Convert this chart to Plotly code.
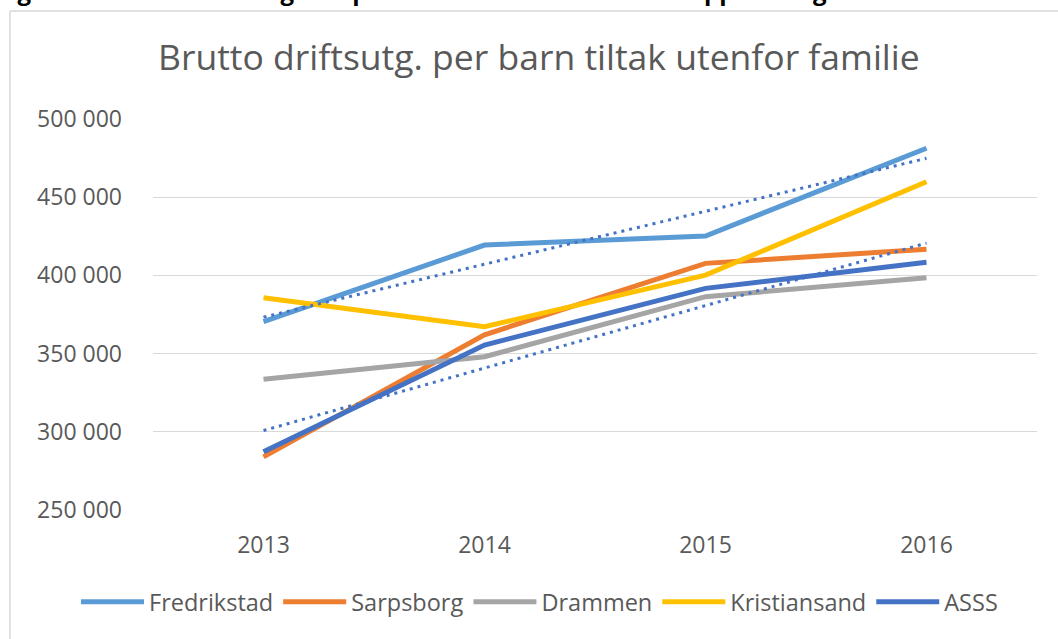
import numpy as np
import plotly.graph_objects as go

years = ["2013", "2014", "2015", "2016"]
fredrikstad = [370400, 419400, 425200, 481300]
sarpsborg = [284000, 362000, 407700, 416700]
drammen = [333600, 348000, 386400, 398500]
kristiansand = [385700, 367200, 400200, 459900]
asss = [287300, 355500, 391700, 408400]

series_names = ["Fredrikstad", "Sarpsborg", "Drammen", "Kristiansand", "ASSS"]
series_values = [fredrikstad, sarpsborg, drammen, kristiansand, asss]
series_colors = ["#5B9BD5", "#ED7D31", "#A5A5A5", "#FFC000", "#4472C4"]

title_text = "Brutto driftsutg. per barn tiltak utenfor familie"
caption_text = "Figur 12. Brutto driftsutgifter per barn med tiltak utenfor opprinnelig familie"

W, H = 1058, 639
ML, MR, MT, MB = 153, 21, 119, 129
PW, PH = W - ML - MR, H - MT - MB

def px_x(p):
    return (p - ML) / PW

def px_y(p):
    return (H - MB - p) / PH

fig = go.Figure()
for name, vals, col in zip(series_names, series_values, series_colors):
    fig.add_trace(go.Scatter(x=years, y=vals, name=name, mode="lines",
                             line=dict(color=col, width=5)))

# linear trendlines (Excel style) for Fredrikstad and ASSS
xi = np.arange(len(years))
for vals in (fredrikstad, asss):
    k, m = np.polyfit(xi, vals, 1)
    fig.add_trace(go.Scatter(x=years, y=list(k * xi + m), mode="lines", showlegend=False,
                             line=dict(color="#4472C4", width=3, dash="3px,5px"),
                             hoverinfo="skip"))

font = "Open Sans"
fig.update_layout(
    width=W, height=H,
    margin=dict(l=ML, r=MR, t=MT, b=MB, pad=0, autoexpand=False),
    paper_bgcolor="white", plot_bgcolor="white",
    separators=", ",
    font=dict(family=font, color="#595959", size=23),
    showlegend=True,
    legend=dict(orientation="h", x=px_x(76), xanchor="left", y=px_y(602), yanchor="middle",
                font=dict(size=23.5, color="#595959"), itemwidth=63, tracegroupgap=0),
    xaxis=dict(type="category", range=[-0.5, 3.5], showgrid=False, zeroline=False, showline=False,
               ticks="", tickfont=dict(size=23, color="#595959"), ticklabelstandoff=19),
    yaxis=dict(range=[250000, 500000], dtick=50000, tickformat=",d", showgrid=True,
               gridcolor="#D9D9D9", gridwidth=1.3, zeroline=False, showline=False,
               ticks="", tickfont=dict(size=23, color="#595959"), ticklabelstandoff=30),
    annotations=[
        dict(text=title_text, xref="paper", yref="paper", x=px_x(539), y=px_y(56),
             xanchor="center", yanchor="middle", showarrow=False,
             font=dict(family=font, size=35.5, color="#595959")),
        dict(text="<b>" + caption_text + "</b>", xref="paper", yref="paper", x=px_x(-5), y=px_y(-10),
             xanchor="left", yanchor="middle", showarrow=False,
             font=dict(family=font, size=24, color="#000000")),
    ],
    shapes=[
        dict(type="line", xref="paper", yref="paper", x0=px_x(10), x1=px_x(10),
             y0=px_y(660), y1=px_y(11), line=dict(color="#D9D9D9", width=1.5), layer="below"),
        dict(type="line", xref="paper", yref="paper", x0=px_x(10), x1=px_x(1080),
             y0=px_y(11), y1=px_y(11), line=dict(color="#D9D9D9", width=1.5), layer="below"),
    ],
)

fig.write_html("out.html", config={"displayModeBar": False},
               post_script="document.body.style.margin='0';document.body.style.overflow='hidden';")
